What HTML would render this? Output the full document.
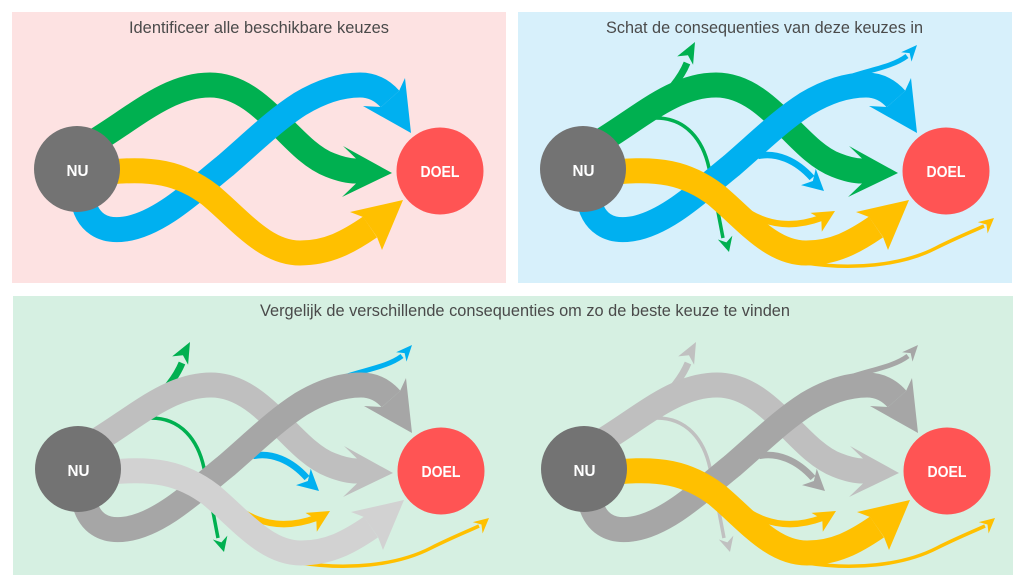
<!DOCTYPE html>
<html><head><meta charset="utf-8"><style>
html,body{margin:0;padding:0;background:#fff;}
svg{display:block;}
text{font-family:"Liberation Sans",sans-serif;}
</style></head><body>
<svg width="1024" height="580" viewBox="0 0 1024 580" xmlns="http://www.w3.org/2000/svg">
<rect x="0" y="0" width="1024" height="580" fill="#ffffff"/>
<rect x="12" y="12" width="494" height="271" fill="#fde2e2"/>
<rect x="518" y="12" width="494" height="271" fill="#d7f0fb"/>
<rect x="13" y="296" width="1000" height="279" fill="#d6f0e2"/>

<text x="129" y="33" font-size="17" fill="#4a4a4a" textLength="260" lengthAdjust="spacingAndGlyphs">Identificeer alle beschikbare keuzes</text>
<text x="606" y="33" font-size="17" fill="#4a4a4a" textLength="317" lengthAdjust="spacingAndGlyphs">Schat de consequenties van deze keuzes in</text>
<text x="260" y="316" font-size="17" fill="#4a4a4a" textLength="530" lengthAdjust="spacingAndGlyphs">Vergelijk de verschillende consequenties om zo de beste keuze te vinden</text>

<!-- TOP LEFT -->
<g transform="translate(0,0)">
  <path d="M80,150 C130,122 165,85 210,85 C262,85 290,150 330,165 C340,169 348,171 356,171" stroke="#00b050" stroke-width="25" fill="none"/>
  <polygon points="392,173 343,146 356,158.5 356,183.5 342,197" fill="#00b050"/>
  <path d="M82,195 C86,225 105,232 125,229 C160,224 195,190 225,166 C255,140 275,120 300,104 C320,92 340,85 360,85 C372,85 382,90 390,99" stroke="#00b0f0" stroke-width="25" fill="none"/>
  <polygon points="411,133 363,106 381,107 399,91 405,78" fill="#00b0f0"/>
  <path d="M110,172 C150,168 180,172 210,195 C240,220 265,253 300,253 C328,253 348,242 370,227" stroke="#ffc000" stroke-width="25" fill="none"/>
  <polygon points="403,200 350,212 363,217 377,237 382,250" fill="#ffc000"/>
  <circle cx="77" cy="169" r="43" fill="#737373"/>
  <circle cx="440" cy="171" r="43.5" fill="#ff5454"/>
  <text x="66.5" y="176" font-size="16" font-weight="bold" fill="#fff" textLength="22" lengthAdjust="spacingAndGlyphs">NU</text>
  <text x="420.5" y="177" font-size="16" font-weight="bold" fill="#fff" textLength="39" lengthAdjust="spacingAndGlyphs">DOEL</text>
</g>

<!-- TOP RIGHT -->
<g transform="translate(506,0)">
  <path d="M150,104 C162,92 174,80 181,63" stroke="#00b050" stroke-width="7" fill="none"/>
  <polygon points="0,0 -21,-9 -15,0 -21,9" fill="#00b050" transform="translate(189,42) rotate(-62)"/>
  <path d="M150,118 C180,118 197,140 203,168 C208,190 212,212 217,238" stroke="#00b050" stroke-width="3.5" fill="none"/>
  <polygon points="0,0 -15,-7.5 -10,0 -15,7.5" fill="#00b050" transform="translate(223,252) rotate(75)"/>
  <path d="M80,150 C130,122 165,85 210,85 C262,85 290,150 330,165 C340,169 348,171 356,171" stroke="#00b050" stroke-width="25" fill="none"/>
  <polygon points="392,173 343,146 356,158.5 356,183.5 342,197" fill="#00b050"/>
  <path d="M335,80 C360,70 385,68 401,56" stroke="#00b0f0" stroke-width="5" fill="none"/>
  <polygon points="0,0 -16,-7 -11,0 -16,7" fill="#00b0f0" transform="translate(411,45) rotate(-48)"/>
  <path d="M252,156 C270,152 290,160 306,178" stroke="#00b0f0" stroke-width="6.5" fill="none"/>
  <polygon points="0,0 -21,-11 -15,0 -21,11" fill="#00b0f0" transform="translate(318,191) rotate(42)"/>
  <path d="M82,195 C86,225 105,232 125,229 C160,224 195,190 225,166 C255,140 275,120 300,104 C320,92 340,85 360,85 C372,85 382,90 390,99" stroke="#00b0f0" stroke-width="25" fill="none"/>
  <polygon points="411,133 363,106 381,107 399,91 405,78" fill="#00b0f0"/>
  <path d="M243,213 C262,224 285,229 315,218" stroke="#ffc000" stroke-width="6.5" fill="none"/>
  <polygon points="0,0 -22,-11 -16,0 -22,11" fill="#ffc000" transform="translate(329,211) rotate(-31)"/>
  <path d="M300,263 C345,270 395,266 430,248 C450,238 465,232 478,226" stroke="#ffc000" stroke-width="3.5" fill="none"/>
  <polygon points="0,0 -15,-7.5 -10,0 -15,7.5" fill="#ffc000" transform="translate(488,218) rotate(-41)"/>
  <path d="M110,172 C150,168 180,172 210,195 C240,220 265,253 300,253 C328,253 348,242 370,227" stroke="#ffc000" stroke-width="25" fill="none"/>
  <polygon points="403,200 350,212 363,217 377,237 382,250" fill="#ffc000"/>
  <circle cx="77" cy="169" r="43" fill="#737373"/>
  <circle cx="440" cy="171" r="43.5" fill="#ff5454"/>
  <text x="66.5" y="176" font-size="16" font-weight="bold" fill="#fff" textLength="22" lengthAdjust="spacingAndGlyphs">NU</text>
  <text x="420.5" y="177" font-size="16" font-weight="bold" fill="#fff" textLength="39" lengthAdjust="spacingAndGlyphs">DOEL</text>
</g>

<!-- BOTTOM LEFT -->
<g transform="translate(1,300)">
  <path d="M150,104 C162,92 174,80 181,63" stroke="#00b050" stroke-width="7" fill="none"/>
  <polygon points="0,0 -21,-9 -15,0 -21,9" fill="#00b050" transform="translate(189,42) rotate(-62)"/>
  <path d="M150,118 C180,118 197,140 203,168 C208,190 212,212 217,238" stroke="#00b050" stroke-width="3.5" fill="none"/>
  <polygon points="0,0 -15,-7.5 -10,0 -15,7.5" fill="#00b050" transform="translate(223,252) rotate(75)"/>
  <path d="M80,150 C130,122 165,85 210,85 C262,85 290,150 330,165 C340,169 348,171 356,171" stroke="#bfbfbf" stroke-width="25" fill="none"/>
  <polygon points="392,173 343,146 356,158.5 356,183.5 342,197" fill="#bfbfbf"/>
  <path d="M335,80 C360,70 385,68 401,56" stroke="#00b0f0" stroke-width="5" fill="none"/>
  <polygon points="0,0 -16,-7 -11,0 -16,7" fill="#00b0f0" transform="translate(411,45) rotate(-48)"/>
  <path d="M252,156 C270,152 290,160 306,178" stroke="#00b0f0" stroke-width="6.5" fill="none"/>
  <polygon points="0,0 -21,-11 -15,0 -21,11" fill="#00b0f0" transform="translate(318,191) rotate(42)"/>
  <path d="M82,195 C86,225 105,232 125,229 C160,224 195,190 225,166 C255,140 275,120 300,104 C320,92 340,85 360,85 C372,85 382,90 390,99" stroke="#a6a6a6" stroke-width="25" fill="none"/>
  <polygon points="411,133 363,106 381,107 399,91 405,78" fill="#a6a6a6"/>
  <path d="M243,213 C262,224 285,229 315,218" stroke="#ffc000" stroke-width="6.5" fill="none"/>
  <polygon points="0,0 -22,-11 -16,0 -22,11" fill="#ffc000" transform="translate(329,211) rotate(-31)"/>
  <path d="M300,263 C345,270 395,266 430,248 C450,238 465,232 478,226" stroke="#ffc000" stroke-width="3.5" fill="none"/>
  <polygon points="0,0 -15,-7.5 -10,0 -15,7.5" fill="#ffc000" transform="translate(488,218) rotate(-41)"/>
  <path d="M110,172 C150,168 180,172 210,195 C240,220 265,253 300,253 C328,253 348,242 370,227" stroke="#d2d2d2" stroke-width="25" fill="none"/>
  <polygon points="403,200 350,212 363,217 377,237 382,250" fill="#d2d2d2"/>
  <circle cx="77" cy="169" r="43" fill="#737373"/>
  <circle cx="440" cy="171" r="43.5" fill="#ff5454"/>
  <text x="66.5" y="176" font-size="16" font-weight="bold" fill="#fff" textLength="22" lengthAdjust="spacingAndGlyphs">NU</text>
  <text x="420.5" y="177" font-size="16" font-weight="bold" fill="#fff" textLength="39" lengthAdjust="spacingAndGlyphs">DOEL</text>
</g>

<!-- BOTTOM RIGHT -->
<g transform="translate(507,300)">
  <path d="M150,104 C162,92 174,80 181,63" stroke="#c0c0c0" stroke-width="7" fill="none"/>
  <polygon points="0,0 -21,-9 -15,0 -21,9" fill="#c0c0c0" transform="translate(189,42) rotate(-62)"/>
  <path d="M150,118 C180,118 197,140 203,168 C208,190 212,212 217,238" stroke="#c0c0c0" stroke-width="3.5" fill="none"/>
  <polygon points="0,0 -15,-7.5 -10,0 -15,7.5" fill="#c0c0c0" transform="translate(223,252) rotate(75)"/>
  <path d="M80,150 C130,122 165,85 210,85 C262,85 290,150 330,165 C340,169 348,171 356,171" stroke="#bfbfbf" stroke-width="25" fill="none"/>
  <polygon points="392,173 343,146 356,158.5 356,183.5 342,197" fill="#bfbfbf"/>
  <path d="M335,80 C360,70 385,68 401,56" stroke="#a6a6a6" stroke-width="5" fill="none"/>
  <polygon points="0,0 -16,-7 -11,0 -16,7" fill="#a6a6a6" transform="translate(411,45) rotate(-48)"/>
  <path d="M252,156 C270,152 290,160 306,178" stroke="#a6a6a6" stroke-width="6.5" fill="none"/>
  <polygon points="0,0 -21,-11 -15,0 -21,11" fill="#a6a6a6" transform="translate(318,191) rotate(42)"/>
  <path d="M82,195 C86,225 105,232 125,229 C160,224 195,190 225,166 C255,140 275,120 300,104 C320,92 340,85 360,85 C372,85 382,90 390,99" stroke="#a6a6a6" stroke-width="25" fill="none"/>
  <polygon points="411,133 363,106 381,107 399,91 405,78" fill="#a6a6a6"/>
  <path d="M243,213 C262,224 285,229 315,218" stroke="#ffc000" stroke-width="6.5" fill="none"/>
  <polygon points="0,0 -22,-11 -16,0 -22,11" fill="#ffc000" transform="translate(329,211) rotate(-31)"/>
  <path d="M300,263 C345,270 395,266 430,248 C450,238 465,232 478,226" stroke="#ffc000" stroke-width="3.5" fill="none"/>
  <polygon points="0,0 -15,-7.5 -10,0 -15,7.5" fill="#ffc000" transform="translate(488,218) rotate(-41)"/>
  <path d="M110,172 C150,168 180,172 210,195 C240,220 265,253 300,253 C328,253 348,242 370,227" stroke="#ffc000" stroke-width="25" fill="none"/>
  <polygon points="403,200 350,212 363,217 377,237 382,250" fill="#ffc000"/>
  <circle cx="77" cy="169" r="43" fill="#737373"/>
  <circle cx="440" cy="171" r="43.5" fill="#ff5454"/>
  <text x="66.5" y="176" font-size="16" font-weight="bold" fill="#fff" textLength="22" lengthAdjust="spacingAndGlyphs">NU</text>
  <text x="420.5" y="177" font-size="16" font-weight="bold" fill="#fff" textLength="39" lengthAdjust="spacingAndGlyphs">DOEL</text>
</g>
</svg>
</body></html>
